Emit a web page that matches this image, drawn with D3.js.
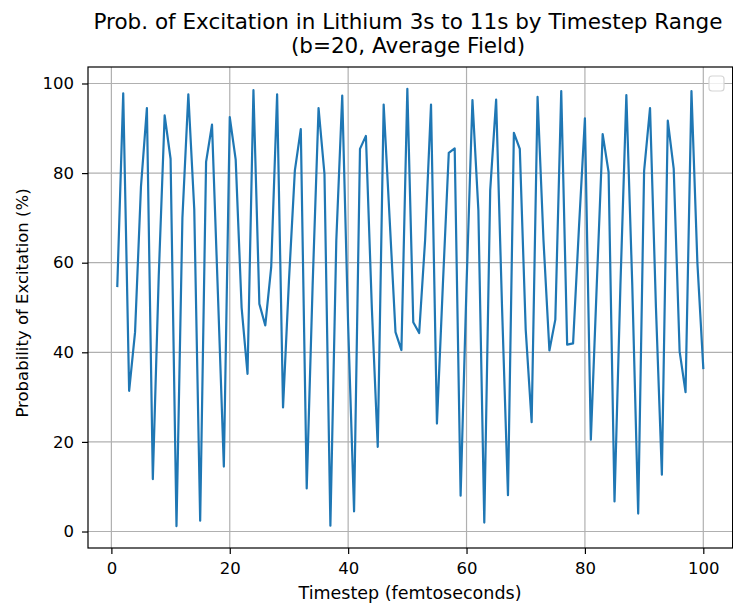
<!DOCTYPE html>
<html><head><meta charset="utf-8">
<script src="https://cdn.jsdelivr.net/npm/d3@7"></script>
<style>body{margin:0;background:#fff} svg{display:block} text{font-family:"DejaVu Sans",sans-serif;fill:#000}</style>
</head><body><svg id="c" width="733" height="607"></svg>
<script>
const timesteps = [1,2,3,4,5,6,7,8,9,10,11,12,13,14,15,16,17,18,19,20,21,22,23,24,25,26,27,28,29,30,31,32,33,34,35,36,37,38,39,40,41,42,43,44,45,46,47,48,49,50,51,52,53,54,55,56,57,58,59,60,61,62,63,64,65,66,67,68,69,70,71,72,73,74,75,76,77,78,79,80,81,82,83,84,85,86,87,88,89,90,91,92,93,94,95,96,97,98,99,100];
const probability = [54.8,97.8,31.4,44.5,77,94.5,11.7,57,92.9,83.2,1.2,70,97.6,72,2.4,82.5,90.8,53,14.5,92.5,83,50,35.2,98.5,50.8,46,59,97.6,27.7,56,80.6,89.8,9.6,55,94.5,79.8,1.3,65,97.3,46,4.5,85.4,88.3,50,18.9,95.3,70,44.5,40.5,98.8,46.7,44.3,65,95.3,24.1,55,84.5,85.5,8.0,55,96.3,71.7,2.0,76.2,96.4,50,8.1,89,85.4,45,24.4,97,65,40.4,47.3,98.3,41.7,42,68,92.2,20.5,55,88.7,80.2,6.7,55,97.4,55,4.0,80.5,94.5,50,12.7,91.7,81,40.2,31.1,98.3,60,36.5];
const xTicks = [0,20,40,60,80,100];
const yTicks = [0,20,40,60,80,100];
const titleLines = ["Prob. of Excitation in Lithium 3s to 11s by Timestep Range","(b=20, Average Field)"];
const xLabel = "Timestep (femtoseconds)";
const yLabel = "Probability of Excitation (%)";

const svg = d3.select("#c");
const L = 88, R = 732.6, T = 67, B = 548;
function pad(ext){const r=ext[1]-ext[0];return [ext[0]-0.05*r, ext[1]+0.05*r];}
const x = d3.scaleLinear().domain(pad(d3.extent(timesteps))).range([L,R]);
const y = d3.scaleLinear().domain(pad(d3.extent(probability))).range([B,T]);

// grid
const g = svg.append("g");
g.selectAll(".gx").data(xTicks).join("line")
  .attr("x1",d=>x(d)).attr("x2",d=>x(d)).attr("y1",T).attr("y2",B)
  .attr("stroke","#b0b0b0").attr("stroke-width",1.2);
g.selectAll(".gy").data(yTicks).join("line")
  .attr("y1",d=>y(d)).attr("y2",d=>y(d)).attr("x1",L).attr("x2",R)
  .attr("stroke","#b0b0b0").attr("stroke-width",1.2);

// line
const line = d3.line().x((d,i)=>x(timesteps[i])).y(d=>y(d));
svg.append("path").datum(probability).attr("d",line)
  .attr("fill","none").attr("stroke","#1f77b4").attr("stroke-width",2.2)
  .attr("stroke-linejoin","round").attr("stroke-linecap","square");

// frame
svg.append("rect").attr("x",L).attr("y",T).attr("width",R-L).attr("height",B-T)
  .attr("fill","none").attr("stroke","#000").attr("stroke-width",1.2);

// axes
const xa = svg.append("g").attr("transform",`translate(0,${B})`)
  .call(d3.axisBottom(x).tickValues(xTicks).tickSize(6).tickPadding(8).tickFormat(d3.format("d")));
const ya = svg.append("g").attr("transform",`translate(${L},0)`)
  .call(d3.axisLeft(y).tickValues(yTicks).tickSize(6).tickPadding(8).tickFormat(d3.format("d")));
[xa,ya].forEach(a=>{
  a.select(".domain").remove();
  a.selectAll("line").attr("stroke","#000").attr("stroke-width",1.2);
  a.selectAll("text").attr("font-size","16.5px").attr("font-family","DejaVu Sans").attr("fill","#000");
});

// legend (empty)
svg.append("rect").attr("x",709).attr("y",76).attr("width",15).attr("height",15).attr("rx",3)
  .attr("fill","#fff").attr("fill-opacity",0.8).attr("stroke","#d5d5d5").attr("stroke-width",1.2);

// title
svg.append("text").attr("x",408).attr("y",29).attr("text-anchor","middle").attr("font-size","21.5px").text(titleLines[0]);
svg.append("text").attr("x",408).attr("y",53).attr("text-anchor","middle").attr("font-size","21.5px").text(titleLines[1]);

// axis labels
svg.append("text").attr("x",410).attr("y",599).attr("text-anchor","middle").attr("font-size","17.5px").text(xLabel);
svg.append("text").attr("transform",`translate(28,303) rotate(-90)`).attr("text-anchor","middle").attr("font-size","16.5px").text(yLabel);
</script></body></html>
